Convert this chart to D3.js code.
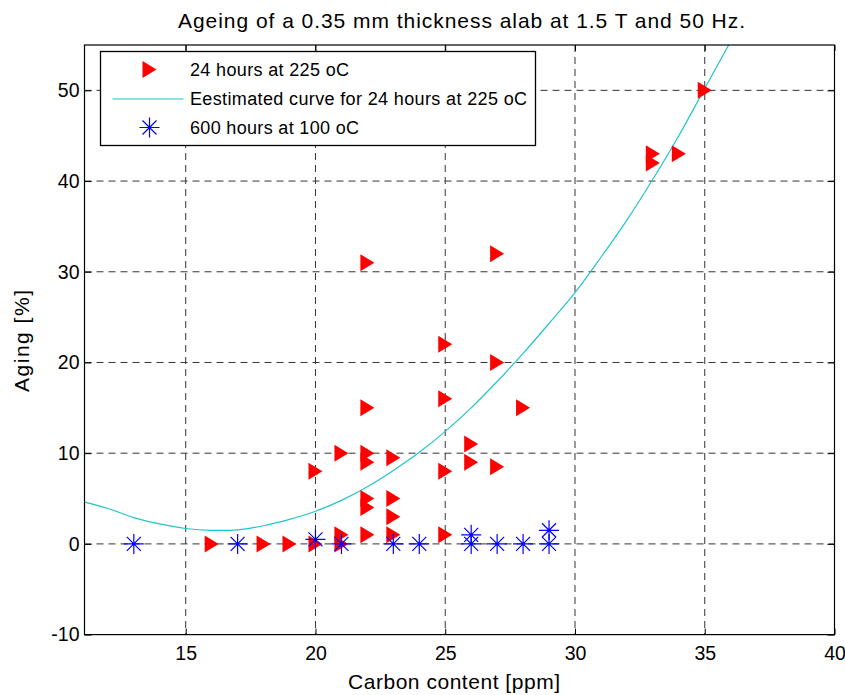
<!DOCTYPE html>
<html>
<head>
<meta charset="utf-8">
<script src="https://cdn.jsdelivr.net/npm/d3@7"></script>
<style>
body { margin:0; background:#fff; }
text { font-family: "Liberation Sans", Arial, sans-serif; fill:#000; }
</style>
</head>
<body>
<div id="chart"></div>
<script>
// ---- data ----
var titleText = "Ageing of a 0.35 mm thickness alab at 1.5 T and 50 Hz."
var xLabel = "Carbon content [ppm]"
var yLabel = "Aging [%]"
var xTicks = [15, 20, 25, 30, 35, 40]
var yTicks = [-10, 0, 10, 20, 30, 40, 50]
var legendLabels = ["24 hours at 225 oC", "Eestimated curve for 24 hours at 225 oC", "600 hours at 100 oC"]

// 24 hours at 225 oC  [carbon ppm, aging %]
var hot24 = [
  [16,0],[18,0],[19,0],[20,0],[20,8],[21,10],[21,1],[21,0],
  [22,31],[22,15],[22,10],[22,9],[22,5],[22,4],[22,1],
  [23,9.5],[23,5],[23,3],[23,1],
  [25,22],[25,16],[25,8],[25,1],
  [26,11],[26,9],[27,32],[27,20],[27,8.5],[28,15],
  [33,43],[33,42],[34,43],[35,50]
]
// estimated curve at each ppm
var curve24 = [
  [11.1,4.6],[12,3.9],[13,2.9],[14,2.2],[15,1.7],[16,1.5],[17,1.55],[18,2.0],
  [19,2.7],[20,3.6],[21,4.8],[22,6.3],[23,8.1],[24,10.1],[25,12.4],[26,15.0],
  [27,17.9],[28,21.0],[29,24.3],[30,27.7],[31,31.6],[32,35.7],[33,40.2],
  [34,45.0],[35,50.2],[36,55.4]
]
// 600 hours at 100 oC
var cold600 = [
  [13,0],[17,0],[20,0.5],[21,0],[23,0],[24,0],[26,1],[26,0],[27,0],[28,0],[29,1.5],[29,0]
]

// ---- chart ----
var W = 845, H = 695
var m = {top:45, right:10.5, bottom:60.4, left:84.5}
var w = W - m.left - m.right, h = H - m.top - m.bottom

var svg = d3.select("#chart").append("svg").attr("width", W).attr("height", H)
var g = svg.append("g").attr("transform", "translate(" + m.left + "," + m.top + ")")

var x = d3.scaleLinear().domain([11.1, 40]).range([0, w])
var y = d3.scaleLinear().domain([-10, 55]).range([h, 0])

svg.append("defs").append("clipPath").attr("id", "clip")
  .append("rect").attr("width", w).attr("height", h)

// grid
var grid = g.append("g").attr("class", "grid")
  .attr("stroke", "#333").attr("stroke-dasharray", "7,5").attr("stroke-width", 1)
grid.selectAll(".gx").data(xTicks.slice(0, -1)).enter().append("line")
  .attr("x1", d => x(d)).attr("x2", d => x(d)).attr("y1", 0).attr("y2", h)
grid.selectAll(".gy").data(yTicks.slice(1)).enter().append("line")
  .attr("y1", d => y(d)).attr("y2", d => y(d)).attr("x1", 0).attr("x2", w)

// estimated curve
var line = d3.line().x(d => x(d[0])).y(d => y(d[1])).curve(d3.curveCatmullRom)
g.append("path").datum(curve24)
  .attr("clip-path", "url(#clip)")
  .attr("fill", "none").attr("stroke", "#1fc6c9").attr("stroke-width", 1.2)
  .attr("d", line)

// markers
var tri = "M-7,-8.5L7,0L-7,8.5Z"
var star = "M-10,0H10M0,-10V10M-7,-7L7,7M-7,7L7,-7"

g.selectAll(".hot").data(hot24).enter().append("path")
  .attr("class", "hot")
  .attr("transform", d => `translate(${x(d[0])},${y(d[1])})`)
  .attr("d", tri).attr("fill", "#ff0000")

g.selectAll(".cold").data(cold600).enter().append("path")
  .attr("class", "cold")
  .attr("transform", d => `translate(${x(d[0])},${y(d[1])})`)
  .attr("d", star).attr("fill", "none").attr("stroke", "#0000ff").attr("stroke-width", 1.2)

// axes box + inward ticks
var fmt = d => String(d) // plain hyphen for -10
var xb = d3.axisBottom(x).tickValues(xTicks).tickSizeInner(-6).tickSizeOuter(0).tickPadding(12).tickFormat(fmt)
var xt = d3.axisTop(x).tickValues(xTicks).tickSizeInner(-6).tickSizeOuter(0).tickFormat("")
var yl = d3.axisLeft(y).tickValues(yTicks).tickSizeInner(-7).tickSizeOuter(0).tickPadding(5).tickFormat(fmt)
var yr = d3.axisRight(y).tickValues(yTicks).tickSizeInner(-7).tickSizeOuter(0).tickFormat("")

g.append("g").attr("transform", "translate(0," + h + ")").call(xb)
g.append("g").call(xt)
g.append("g").call(yl)
g.append("g").attr("transform", "translate(" + w + ",0)").call(yr)
g.selectAll(".domain").remove()
g.selectAll(".tick line").attr("stroke", "#000")
g.selectAll(".tick text").attr("font-size", 19.5).attr("font-family", "Liberation Sans, Arial, sans-serif").attr("fill", "#000")

g.append("rect").attr("width", w).attr("height", h)
  .attr("fill", "none").attr("stroke", "#000").attr("stroke-width", 1.2)

// legend
var lg = svg.append("g").attr("transform", "translate(100.5,51.5)")
lg.append("rect").attr("width", 435).attr("height", 94)
  .attr("fill", "#fff").attr("stroke", "#000").attr("stroke-width", 1.3)
var ly = [18, 47.5, 76]
var lw = [159, 337, 169]
lg.append("path").attr("d", tri).attr("fill", "#ff0000")
  .attr("transform", `translate(49,${ly[0]})`)
lg.append("line").attr("x1", 12).attr("x2", 83).attr("y1", ly[1]).attr("y2", ly[1])
  .attr("stroke", "#1fc6c9").attr("stroke-width", 1.2)
lg.append("path").attr("d", star).attr("fill", "none").attr("stroke", "#0000ff").attr("stroke-width", 1.2)
  .attr("transform", `translate(49,${ly[2]})`)
lg.selectAll(".lt").data(legendLabels).enter().append("text")
  .attr("x", 89.5).attr("y", (d, i) => ly[i]).attr("dy", "0.36em")
  .attr("font-size", 18).attr("textLength", (d, i) => lw[i]).attr("lengthAdjust", "spacing")
  .text(d => d)

// titles
svg.append("text").attr("x", 461.5).attr("y", 28).attr("text-anchor", "middle")
  .attr("font-size", 21).attr("textLength", 567).attr("lengthAdjust", "spacing").text(titleText)
svg.append("text").attr("x", 454).attr("y", 689).attr("text-anchor", "middle")
  .attr("font-size", 21).attr("textLength", 212).attr("lengthAdjust", "spacing").text(xLabel)
svg.append("text").attr("transform", "translate(29," + 341 + ") rotate(-90)")
  .attr("text-anchor", "middle").attr("font-size", 21)
  .attr("textLength", 102).attr("lengthAdjust", "spacing").text(yLabel)
</script>
</body>
</html>
